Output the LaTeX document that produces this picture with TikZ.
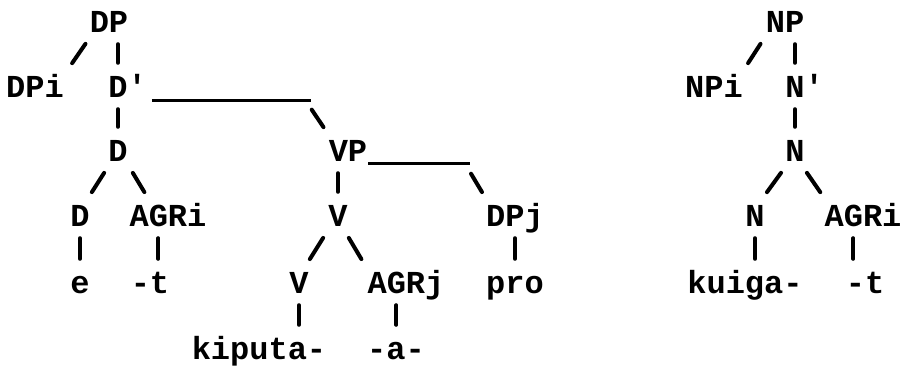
\documentclass[tikz,border=0pt]{standalone}
\usepackage{fontspec}
\setmonofont{Liberation Mono}
\tikzset{
cat/.style={anchor=base, inner sep=0pt, text height=32pt, text depth=10pt,
  font=\ttfamily\bfseries\fontsize{32}{32}\selectfont}, % typewriter labels
branch/.style={line width=4pt, line cap=round, shorten <=2pt, shorten >=2pt}, % the / | \ strokes
rule/.style={line width=3pt}, % the long underscores
}
\begin{document}
\begin{tikzpicture}[x=1pt, y=-1pt]
    \useasboundingbox (0,0) rectangle (903,367);
    % DP tree
    \node[cat] (dp) at (109, 32) {DP};
    \node[cat] (dpi) at (35, 97) {DPi};
    \node[cat] (dbar) at (118, 97) {D\rlap{'}};
    \node[cat] (d) at (118, 161) {D};
    \node[cat] (vp) at (348, 161) {VP};
    \node[cat] (dlow) at (80, 226) {D};
    \node[cat] (agri) at (168, 226) {AGRi};
    \node[cat] (v) at (338, 226) {V};
    \node[cat] (dpj) at (515, 226) {DPj};
    \node[cat] (de) at (80, 293) {e};
    \node[cat] (dt) at (150, 293) {-t};
    \node[cat] (vlow) at (299, 293) {V};
    \node[cat] (agrj) at (406, 293) {AGRj};
    \node[cat] (pro) at (515, 293) {pro};
    \node[cat] (kiputa) at (259, 359) {kiputa-};
    \node[cat] (aa) at (396, 359) {-a-};

    \draw[branch] ([xshift=-3pt]dp.south west) -- ([xshift=7pt]dpi.north east);
    \draw[branch] (dp.south -| dbar) -- (dbar.north);
    \draw[branch] (dbar.south -| d) -- (d.north);
    \coordinate (dturn) at (dbar.base -| vp.west);
    \draw[rule] ([shift={(24,3)}]dbar.base east) -- ([shift={(-18,3)}]dturn);
    \draw[branch] ([shift={(-18,11)}]dturn) -- ([xshift=-4pt]vp.north west);
    \draw[branch] ([xshift=-3pt]d.south west) -- ([xshift=1pt]dlow.north east);
    \draw[branch] ([xshift=4pt]d.south east) -- ([xshift=16pt]agri.north west);
    \draw[branch] (vp.south -| v) -- (v.north);
    \coordinate (vturn) at (vp.base -| dpj.west);
    \draw[rule] ([shift={(1,2)}]vp.base east) -- ([shift={(-16,2)}]vturn);
    \draw[branch] ([shift={(-16,11)}]vturn) -- ([xshift=-3pt]dpj.north west);
    \draw[branch] (dlow.south) -- (de.north);
    \draw[branch] ([xshift=-9.6pt]agri.south) -- ([xshift=-9.6pt]agri.south |- dt.north);
    \draw[branch] ([xshift=-4pt]v.south west) -- (vlow.north east);
    \draw[branch] (v.south east) -- ([xshift=-5pt]agrj.north west);
    \draw[branch] (dpj.south) -- (pro.north);
    \draw[branch] (vlow.south) -- (vlow.south |- kiputa.north);
    \draw[branch] ([xshift=-9.6pt]agrj.south) -- ([xshift=-9.6pt]agrj.south |- aa.north);

    % NP tree
    \node[cat] (np) at (785, 32) {NP};
    \node[cat] (npi) at (714, 97) {NPi};
    \node[cat] (nbar) at (795, 97) {N\rlap{'}};
    \node[cat] (n) at (795, 161) {N};
    \node[cat] (nlow) at (755, 226) {N};
    \node[cat] (ragri) at (863, 226) {AGRi};
    \node[cat] (kuiga) at (745, 293) {kuiga-};
    \node[cat] (rt) at (865, 293) {-t};

    \draw[branch] ([xshift=-4pt]np.south west) -- ([xshift=4pt]npi.north east);
    \draw[branch] (np.south -| nbar) -- (nbar.north);
    \draw[branch] (nbar.south -| n) -- (n.north);
    \draw[branch] ([xshift=-3pt]n.south west) -- ([xshift=1pt]nlow.north east);
    \draw[branch] ([xshift=1pt]n.south east) -- ([xshift=-3pt]ragri.north west);
    \draw[branch] (nlow.south) -- (nlow.south |- kuiga.north);
    \draw[branch] ([xshift=-9.6pt]ragri.south) -- ([xshift=-9.6pt]ragri.south |- rt.north);
\end{tikzpicture}
\end{document}
